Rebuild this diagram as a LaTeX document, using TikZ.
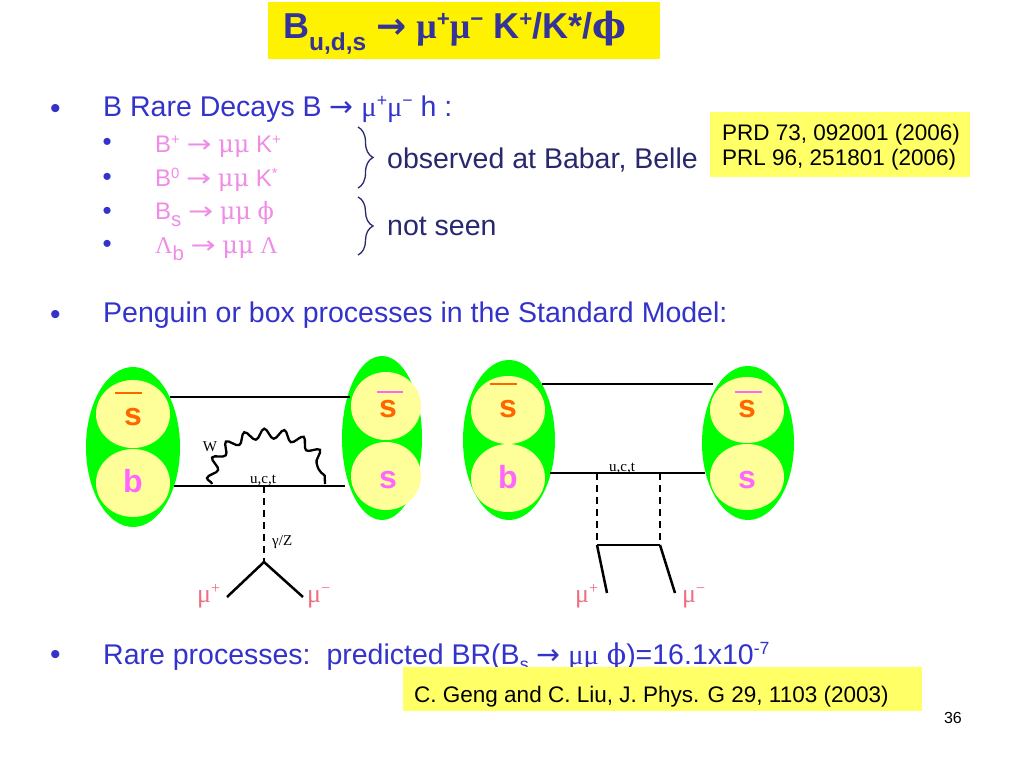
\documentclass[tikz,border=0pt]{standalone}
\usepackage{fontspec}
\usepackage{graphicx}
\setmainfont{Liberation Sans}
\newfontfamily\grk{Liberation Serif}
\newfontfamily\phif{DejaVu Serif}
\newfontfamily\arrf{DejaVu Sans}
\usetikzlibrary{shapes.geometric,decorations.pathmorphing,decorations.pathreplacing}
\newcommand\fsz[1]{\fontsize{#1}{#1}\selectfont}
\newcommand\hi[1]{\raisebox{0.33em}{\scalebox{0.62}{#1}}}
\newcommand\lo[1]{\raisebox{-0.3em}{\scalebox{0.85}{#1}}}
\newcommand\slo[1]{\raisebox{-0.22em}{\scalebox{0.62}{#1}}}
\newcommand\arr{{\arrf →}}
\newcommand\warr{{\arrf\scalebox{1.25}[1]{→}}}
\definecolor{tblue}{RGB}{51,51,153}
\definecolor{mblue}{RGB}{51,51,204}
\definecolor{navy}{RGB}{40,40,110}
\definecolor{spink}{RGB}{240,140,230}
\definecolor{qgreen}{RGB}{0,255,0}
\definecolor{qyellow}{RGB}{255,255,153}
\definecolor{qorange}{RGB}{255,102,0}
\definecolor{qpink}{RGB}{255,102,255}
\definecolor{mupink}{RGB}{240,110,130}
\definecolor{refyellow}{RGB}{255,255,102}
\begin{document}
\begin{tikzpicture}[x=1pt,y=-1pt,
  txt/.style={inner sep=0pt, anchor=base west},
  mainbul/.style={inner sep=0pt, anchor=base west, text=mblue, font=\fsz{30}},
  subbul/.style={inner sep=0pt, anchor=base west, text=mblue, font=\fsz{26}},
  maintxt/.style={txt, text=mblue, font=\fsz{28.5}},
  subtxt/.style={txt, text=spink, font=\fsz{24}},
  reftxt/.style={txt, text=black, font=\fsz{22.5}},
  blob/.style={ellipse, fill=qgreen, draw=none, inner sep=0pt},
  quark/.style={ellipse, fill=qyellow, draw=none, inner sep=0pt},
  qlabel/.style={inner sep=0pt, anchor=base, font=\fsz{32}\bfseries},
  fline/.style={line width=2.5pt, black},
  dline/.style={line width=2.5pt, black, dash pattern=on 7pt off 5pt},
  wline/.style={line width=2.3pt, black, decorate, decoration={snake, segment length=19pt, amplitude=5pt}},
  qbar/.style={line width=2.5pt},
  feyn/.style={inner sep=0pt, font=\grk\fsz{15}},
  mulabel/.style={inner sep=0pt, anchor=base west, text=mupink, font=\grk\fsz{26}},
  bracestyle/.style={navy, line width=1.3pt, decorate, decoration={brace, amplitude=15pt}}
]
\useasboundingbox (0,0) rectangle (1024,768);
\fill[white] (0,0) rectangle (1024,768);

% title
\node[fill=yellow, minimum width=392pt, minimum height=57pt, inner sep=0pt] (titlebox) at (464,30.5) {};
\node[txt, text=tblue, font=\fsz{36}\bfseries] (title) at (283,38)
  {B\raisebox{-0.36em}{\scalebox{0.68}{u,d,s}} {\arrf\bfseries →} {\grk\bfseries μ}\hi{+}{\grk\bfseries μ}\hi{−} K\hi{+}/K*/{\phif\bfseries ϕ}};

% bullet 1
\node[mainbul] (b1) at (50,118.8) {•};
\node[maintxt] (l1) at (103,116) {B Rare Decays B \arr{} {\grk μ}\hi{+}{\grk μ}\hi{−} h :};

\node[subbul] (sb1) at (102.5,150.4) {•};
\node[subbul] (sb2) at (102.5,185.4) {•};
\node[subbul] (sb3) at (102.5,219.4) {•};
\node[subbul] (sb4) at (102.5,252.4) {•};
\node[subtxt] (s1) at (155,152) {B\hi{+} \warr{} {\phif μμ} K\hi{+}};
\node[subtxt] (s2) at (155,186) {B\hi{0} \warr{} {\phif μμ} K\hi{*}};
\node[subtxt] (s3) at (155,219) {B\lo{s} \warr{} {\phif μμ} {\phif ϕ}};
\node[subtxt] (s4) at (155,253) {{\grk Λ}\lo{b} \warr{} {\phif μμ} {\grk Λ}};

\coordinate (br1a) at (358,127);
\coordinate (br1b) at (358,188);
\coordinate (br2a) at (358,197);
\coordinate (br2b) at (358,255);
\draw[bracestyle] (br1a) -- (br1b);
\draw[bracestyle] (br2a) -- (br2b);
\node[txt, text=navy, font=\fsz{28.5}] (obs) at (387,168) {observed at Babar, Belle};
\node[txt, text=navy, font=\fsz{28.5}] (notseen) at (387,235) {not seen};

\node[fill=refyellow, minimum width=260pt, minimum height=65pt, inner sep=0pt] (refbox1) at (840,144.5) {};
\node[reftxt] (ref1) at (722,140) {PRD 73, 092001 (2006)};
\node[reftxt] (ref2) at (722,165) {PRL 96, 251801 (2006)};

% bullet 2
\node[mainbul] (b2) at (50,324.8) {•};
\node[maintxt] (l2) at (103,322) {Penguin or box processes in the Standard Model:};

% ===== left diagram =====
\node[blob, minimum width=94pt, minimum height=160pt] (LLb) at (133,447) {};
\node[quark, minimum width=74pt, minimum height=68pt] (LLt) at (133,414) {};
\node[quark, minimum width=74pt, minimum height=68pt] (LLd) at (133,483) {};
\node[qlabel, text=qorange] (LLts) at (133,425) {s};
\draw[qbar, qorange] (115,393) -- (142,393);
\node[qlabel, text=qpink] (LLdb) at (133,492) {b};

\node[blob, minimum width=80pt, minimum height=164pt] (LRb) at (382,438) {};
\node[quark, minimum width=70pt, minimum height=68pt] (LRt) at (386,406) {};
\node[quark, minimum width=70pt, minimum height=68pt] (LRd) at (386,476) {};
\node[qlabel, text=qorange] (LRts) at (388,417) {s};
\draw[qbar, qpink] (377,392) -- (403,392);
\node[qlabel, text=qpink] (LRds) at (388,488) {s};

\coordinate (Lt1) at (170,397);
\coordinate (Lt2) at (350,397);
\coordinate (Lb1) at (174,486);
\coordinate (Lb2) at (345,486);
\coordinate (Wa) at (212,484);
\coordinate (Wb) at (325,484);
\coordinate (Lv) at (264,486);
\coordinate (Lz) at (264,562);
\coordinate (Lmp) at (227,597);
\coordinate (Lmm) at (303,597);
\draw[fline] (Lt1) -- (Lt2);
\draw[fline] (Lb1) -- (Lb2);
\draw[wline] (Wa) .. controls (212,423) and (325,423) .. (Wb);
\draw[dline] (Lv) -- (Lz);
\draw[fline, line join=miter] (Lmp) -- (Lz) -- (Lmm);
\node[feyn, anchor=center] (Wl) at (210,447) {W};
\node[feyn, anchor=base] (uctL) at (263,483) {u,c,t};
\node[feyn, anchor=base west] (gz) at (272,545) {γ/Z};
\node[mulabel] (mupL) at (197,602) {μ\hi{+}};
\node[mulabel] (mumL) at (307,602) {μ\hi{−}};

% ===== right diagram =====
\node[blob, minimum width=92pt, minimum height=160pt] (RLb) at (509,440) {};
\node[quark, minimum width=74pt, minimum height=68pt] (RLt) at (508,410) {};
\node[quark, minimum width=74pt, minimum height=68pt] (RLd) at (508,478) {};
\node[qlabel, text=qorange] (RLts) at (508,417) {s};
\draw[qbar, qorange] (490,384) -- (517,384);
\node[qlabel, text=qpink] (RLdb) at (508,488) {b};

\node[blob, minimum width=92pt, minimum height=154pt] (RRb) at (748,443) {};
\node[quark, minimum width=74pt, minimum height=66pt] (RRt) at (747,410) {};
\node[quark, minimum width=74pt, minimum height=66pt] (RRd) at (747,477) {};
\node[qlabel, text=qorange] (RRts) at (747,417) {s};
\draw[qbar, qpink] (735,392) -- (762,392);
\node[qlabel, text=qpink] (RRds) at (747,488) {s};

\coordinate (Rt1) at (542,384);
\coordinate (Rt2) at (713,384);
\coordinate (Rb1) at (550,473);
\coordinate (Rb2) at (705,473);
\coordinate (Rv1) at (597,473);
\coordinate (Rv2) at (660,473);
\coordinate (Rc1) at (597,545);
\coordinate (Rc2) at (660,545);
\coordinate (Rmp) at (607,593);
\coordinate (Rmm) at (675,593);
\draw[fline] (Rt1) -- (Rt2);
\draw[fline] (Rb1) -- (Rb2);
\draw[dline] (Rv1) -- (Rc1);
\draw[dline] (Rv2) -- (Rc2);
\draw[fline] (Rc1) -- (Rc2);
\draw[fline] (Rc1) -- (Rmp);
\draw[fline] (Rc2) -- (Rmm);
\node[feyn, anchor=base] (uctR) at (622,471) {u,c,t};
\node[mulabel] (mupR) at (575,602) {μ\hi{+}};
\node[mulabel] (mumR) at (682,602) {μ\hi{−}};

% bullet 3
\node[mainbul] (b3) at (50,664.8) {•};
\node[maintxt] (l3) at (103,664) {Rare processes:\ \ predicted BR(B\slo{s} \arr{} {\grk μμ} {\phif ϕ})=16.1x10\hi{-7}};

\node[fill=refyellow, minimum width=519pt, minimum height=44pt, inner sep=0pt] (refbox2) at (662.5,689) {};
\node[reftxt] (ref3) at (414,702) {C. Geng and C. Liu, J. Phys. G 29, 1103 (2003)};

\node[inner sep=0pt, anchor=base east, font=\fsz{16}] (pagenum) at (962,723) {36};
\end{tikzpicture}
\end{document}
